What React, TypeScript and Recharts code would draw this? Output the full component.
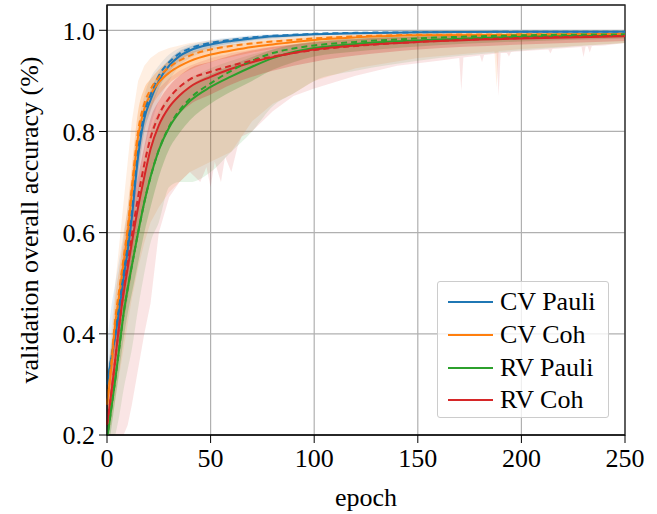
import React from "react";
import { Area, ComposedChart, CartesianGrid, Line, ReferenceArea, XAxis, YAxis } from "recharts";

const epochs = [0, 2, 4, 6, 8, 10, 12, 15, 18, 21, 25, 30, 35, 40, 50, 60, 70, 80, 90, 100, 120, 150, 200, 250];

// CV Pauli
const cvPauliMean = [0.30, 0.35, 0.395, 0.45, 0.51, 0.565, 0.63, 0.75, 0.825, 0.862, 0.9, 0.93, 0.949, 0.96, 0.972, 0.979, 0.984, 0.988, 0.99, 0.992, 0.994, 0.996, 0.997, 0.997];
const cvPauliMedian = [0.30, 0.35, 0.40, 0.46, 0.52, 0.575, 0.64, 0.76, 0.835, 0.872, 0.91, 0.937, 0.954, 0.964, 0.975, 0.981, 0.986, 0.989, 0.991, 0.993, 0.995, 0.996, 0.997, 0.997];
const cvPauliSdLo = [0.28, 0.325, 0.37, 0.425, 0.485, 0.54, 0.6, 0.715, 0.8, 0.84, 0.885, 0.918, 0.94, 0.952, 0.966, 0.974, 0.98, 0.985, 0.987, 0.99, 0.992, 0.994, 0.995, 0.996];
const cvPauliSdHi = [0.32, 0.375, 0.42, 0.475, 0.535, 0.59, 0.66, 0.785, 0.85, 0.882, 0.915, 0.942, 0.959, 0.968, 0.978, 0.984, 0.988, 0.991, 0.993, 0.994, 0.996, 0.997, 0.998, 0.998];
const cvPauliMin = [0.26, 0.3, 0.34, 0.39, 0.44, 0.49, 0.55, 0.67, 0.76, 0.81, 0.86, 0.9, 0.93, 0.945, 0.96, 0.97, 0.977, 0.982, 0.985, 0.988, 0.991, 0.993, 0.995, 0.996];
const cvPauliMax = [0.38, 0.45, 0.5, 0.55, 0.6, 0.65, 0.71, 0.81, 0.87, 0.905, 0.93, 0.952, 0.965, 0.972, 0.981, 0.986, 0.99, 0.992, 0.993, 0.995, 0.996, 0.997, 0.998, 0.998];

// CV Coh
const cvCohMean = [0.26, 0.33, 0.42, 0.48, 0.54, 0.6, 0.68, 0.79, 0.845, 0.873, 0.897, 0.916, 0.929, 0.939, 0.952, 0.96, 0.967, 0.972, 0.977, 0.981, 0.986, 0.99, 0.991, 0.992];
const cvCohMedian = [0.26, 0.34, 0.43, 0.49, 0.55, 0.61, 0.69, 0.8, 0.855, 0.883, 0.907, 0.927, 0.94, 0.95, 0.962, 0.969, 0.974, 0.978, 0.981, 0.984, 0.988, 0.991, 0.992, 0.993];
const cvCohSdLo = [0.23, 0.29, 0.37, 0.43, 0.49, 0.55, 0.63, 0.74, 0.81, 0.845, 0.872, 0.895, 0.91, 0.922, 0.937, 0.947, 0.956, 0.963, 0.969, 0.974, 0.98, 0.985, 0.987, 0.989];
const cvCohSdHi = [0.29, 0.37, 0.47, 0.53, 0.59, 0.65, 0.73, 0.84, 0.885, 0.903, 0.922, 0.94, 0.95, 0.957, 0.966, 0.972, 0.977, 0.981, 0.984, 0.987, 0.991, 0.994, 0.995, 0.995];
const cvCohBandEpochs = [0, 2, 4, 6, 8, 10, 12, 15, 18, 21, 25, 30, 35, 40, 50, 60, 70, 80, 90, 100, 120, 150, 180, 187, 188, 189, 200, 250];
const cvCohMin = [0.2, 0.22, 0.27, 0.32, 0.37, 0.42, 0.47, 0.53, 0.58, 0.62, 0.65, 0.68, 0.7, 0.72, 0.74, 0.76, 0.82, 0.855, 0.875, 0.9, 0.925, 0.945, 0.956, 0.958, 0.887, 0.959, 0.963, 0.975];
const cvCohMax = [0.3, 0.4, 0.5, 0.58, 0.66, 0.74, 0.82, 0.9, 0.93, 0.945, 0.957, 0.965, 0.97, 0.975, 0.98, 0.984, 0.987, 0.989, 0.99, 0.991, 0.993, 0.995, 0.996, 0.996, 0.996, 0.996, 0.996, 0.996];

// RV Pauli
const rvPauliMean = [0.19, 0.25, 0.31, 0.375, 0.44, 0.49, 0.535, 0.6, 0.66, 0.71, 0.763, 0.808, 0.838, 0.86, 0.888, 0.909, 0.928, 0.945, 0.957, 0.965, 0.973, 0.98, 0.987, 0.99];
const rvPauliMedian = [0.19, 0.25, 0.31, 0.375, 0.44, 0.49, 0.535, 0.6, 0.66, 0.71, 0.763, 0.81, 0.842, 0.865, 0.895, 0.92, 0.94, 0.955, 0.964, 0.97, 0.977, 0.984, 0.99, 0.992];
const rvPauliSdLo = [0.16, 0.21, 0.27, 0.33, 0.39, 0.44, 0.48, 0.54, 0.6, 0.65, 0.71, 0.765, 0.797, 0.822, 0.855, 0.879, 0.9, 0.922, 0.937, 0.948, 0.958, 0.968, 0.978, 0.984];
const rvPauliSdHi = [0.22, 0.29, 0.35, 0.42, 0.49, 0.54, 0.59, 0.655, 0.715, 0.765, 0.81, 0.845, 0.872, 0.89, 0.913, 0.931, 0.947, 0.962, 0.972, 0.978, 0.984, 0.988, 0.993, 0.995];
const rvPauliMin = [0.15, 0.17, 0.2, 0.24, 0.29, 0.33, 0.37, 0.45, 0.52, 0.58, 0.62, 0.69, 0.7, 0.7, 0.72, 0.76, 0.8, 0.85, 0.875, 0.9, 0.92, 0.94, 0.96, 0.975];
const rvPauliMax = [0.24, 0.3, 0.37, 0.44, 0.51, 0.57, 0.62, 0.69, 0.75, 0.8, 0.84, 0.87, 0.89, 0.905, 0.925, 0.94, 0.952, 0.962, 0.97, 0.975, 0.982, 0.988, 0.993, 0.995];

// RV Coh
const rvCohMean = [0.22, 0.28, 0.35, 0.42, 0.48, 0.53, 0.58, 0.65, 0.71, 0.765, 0.812, 0.848, 0.871, 0.888, 0.908, 0.924, 0.937, 0.947, 0.955, 0.962, 0.97, 0.977, 0.984, 0.988];
const rvCohMedian = [0.22, 0.28, 0.35, 0.42, 0.485, 0.54, 0.595, 0.67, 0.735, 0.787, 0.832, 0.866, 0.888, 0.903, 0.918, 0.93, 0.94, 0.948, 0.955, 0.961, 0.969, 0.977, 0.985, 0.989];
const rvCohSdLo = [0.19, 0.24, 0.3, 0.36, 0.42, 0.47, 0.52, 0.59, 0.65, 0.71, 0.765, 0.805, 0.835, 0.853, 0.873, 0.893, 0.908, 0.92, 0.93, 0.938, 0.95, 0.962, 0.972, 0.979];
const rvCohSdHi = [0.25, 0.32, 0.4, 0.48, 0.54, 0.59, 0.64, 0.71, 0.77, 0.825, 0.86, 0.89, 0.91, 0.925, 0.938, 0.95, 0.96, 0.967, 0.972, 0.977, 0.983, 0.987, 0.991, 0.993];
const rvCohBandEpochs = [0, 2, 4, 6, 8, 10, 12, 15, 18, 21, 25, 30, 35, 40, 45, 48, 50, 52, 55, 57, 60, 63, 65, 70, 80, 90, 100, 120, 140, 150, 160, 170, 171, 172, 180, 181, 182, 188, 189, 190, 193, 194, 195, 205, 213, 214, 215, 229, 230, 231, 232, 233, 234, 240, 250];
const rvCohMin = [0.15, 0.15, 0.16, 0.18, 0.2, 0.22, 0.26, 0.33, 0.4, 0.46, 0.6, 0.67, 0.7, 0.72, 0.7, 0.73, 0.69, 0.74, 0.7, 0.75, 0.72, 0.77, 0.79, 0.8, 0.84, 0.87, 0.885, 0.91, 0.93, 0.935, 0.94, 0.945, 0.88, 0.946, 0.95, 0.937, 0.951, 0.954, 0.87, 0.955, 0.955, 0.948, 0.957, 0.96, 0.962, 0.954, 0.963, 0.967, 0.947, 0.968, 0.968, 0.956, 0.969, 0.97, 0.975];
const rvCohMax = [0.28, 0.35, 0.42, 0.5, 0.57, 0.63, 0.68, 0.75, 0.81, 0.855, 0.885, 0.905, 0.92, 0.93, 0.938, 0.942, 0.945, 0.947, 0.95, 0.951, 0.955, 0.957, 0.958, 0.962, 0.968, 0.972, 0.976, 0.981, 0.985, 0.986, 0.987, 0.988, 0.988, 0.988, 0.989, 0.989, 0.989, 0.99, 0.99, 0.99, 0.99, 0.99, 0.99, 0.991, 0.991, 0.991, 0.991, 0.992, 0.992, 0.992, 0.992, 0.992, 0.992, 0.992, 0.993];

const xTicks = [0, 50, 100, 150, 200, 250];
const yTicks = [0.2, 0.4, 0.6, 0.8, 1.0];

const series = [
  { key: "cvPauli", name: "CV Pauli", color: "#1f77b4" },
  { key: "cvCoh", name: "CV Coh", color: "#ff7f0e" },
  { key: "rvPauli", name: "RV Pauli", color: "#2ca02c" },
  { key: "rvCoh", name: "RV Coh", color: "#d62728" },
];

const rows = epochs.map((epoch, i) => ({
  epoch,
  cvPauli: cvPauliMean[i],
  cvPauliMed: cvPauliMedian[i],
  cvPauliSd: [cvPauliSdLo[i], cvPauliSdHi[i]],
  cvPauliRange: [cvPauliMin[i], cvPauliMax[i]],
  cvCoh: cvCohMean[i],
  cvCohMed: cvCohMedian[i],
  cvCohSd: [cvCohSdLo[i], cvCohSdHi[i]],
  rvPauli: rvPauliMean[i],
  rvPauliMed: rvPauliMedian[i],
  rvPauliSd: [rvPauliSdLo[i], rvPauliSdHi[i]],
  rvPauliRange: [rvPauliMin[i], rvPauliMax[i]],
  rvCoh: rvCohMean[i],
  rvCohMed: rvCohMedian[i],
  rvCohSd: [rvCohSdLo[i], rvCohSdHi[i]],
}));

const cvCohBand = cvCohBandEpochs.map((epoch, i) => ({ epoch, range: [cvCohMin[i], cvCohMax[i]] }));
const rvCohBand = rvCohBandEpochs.map((epoch, i) => ({ epoch, range: [rvCohMin[i], rvCohMax[i]] }));

const FONT = "Liberation Serif, Tinos, Nimbus Roman, DejaVu Serif, serif";

function LegendBox() {
  return (
    <div
      style={{
        position: "absolute",
        left: 437,
        top: 281,
        width: 172,
        height: 137,
        boxSizing: "border-box",
        border: "1px solid #cccccc",
        borderRadius: 3,
        background: "rgba(255,255,255,0.8)",
        fontFamily: FONT,
        fontSize: 26,
        color: "#000",
        padding: "4px 0 0 10px",
      }}
    >
      {series.map((s) => (
        <div key={s.key} style={{ display: "flex", alignItems: "center", height: 32.7 }}>
          <div style={{ width: 45, height: 2, background: s.color, marginRight: 7 }} />
          <span style={{ lineHeight: "26px" }}>{s.name}</span>
        </div>
      ))}
    </div>
  );
}

export default function App() {
  const tickStyle = { fontFamily: FONT, fontSize: 26, fill: "#000" };
  return (
    <div style={{ position: "absolute", left: 0, top: 0, width: 657, height: 514, background: "#fff", fontFamily: FONT }}>
      <ComposedChart width={657} height={514} data={rows} margin={{ top: 5, right: 32, left: 0, bottom: 0 }} style={{ fontFamily: FONT }}>
        <CartesianGrid stroke="#b0b0b0" strokeWidth={1.2} />
        <XAxis
          dataKey="epoch"
          type="number"
          domain={[0, 250]}
          ticks={xTicks}
          height={79}
          tickSize={8}
          tickMargin={6}
          tick={tickStyle}
          stroke="#000"
          label={{ value: "epoch", position: "insideBottom", offset: 8, style: { fontFamily: FONT, fontSize: 26, fill: "#000" } }}
        />
        <YAxis
          type="number"
          domain={[0.2, 1.05]}
          allowDataOverflow
          ticks={yTicks}
          width={107}
          tickSize={8}
          tickMargin={4}
          tick={tickStyle}
          tickFormatter={(v: number) => v.toFixed(1)}
          stroke="#000"
          label={{
            value: "validation overall accuracy (%)",
            angle: -90,
            position: "insideLeft",
            offset: 29,
            style: { fontFamily: FONT, fontSize: 26, fill: "#000", textAnchor: "middle" },
          }}
        />

        <Area dataKey="cvPauliRange" type="monotone" stroke="none" fill="#1f77b4" fillOpacity={0.12} isAnimationActive={false} dot={false} activeDot={false} />
        <Area dataKey="cvPauliSd" type="monotone" stroke="none" fill="#1f77b4" fillOpacity={0.25} isAnimationActive={false} dot={false} activeDot={false} />
        <Area data={cvCohBand} dataKey="range" type="linear" stroke="none" fill="#ff7f0e" fillOpacity={0.12} isAnimationActive={false} dot={false} activeDot={false} />
        <Area dataKey="cvCohSd" type="monotone" stroke="none" fill="#ff7f0e" fillOpacity={0.25} isAnimationActive={false} dot={false} activeDot={false} />
        <Area dataKey="rvPauliRange" type="monotone" stroke="none" fill="#2ca02c" fillOpacity={0.12} isAnimationActive={false} dot={false} activeDot={false} />
        <Area dataKey="rvPauliSd" type="monotone" stroke="none" fill="#2ca02c" fillOpacity={0.25} isAnimationActive={false} dot={false} activeDot={false} />
        <Area data={rvCohBand} dataKey="range" type="linear" stroke="none" fill="#d62728" fillOpacity={0.12} isAnimationActive={false} dot={false} activeDot={false} />
        <Area dataKey="rvCohSd" type="monotone" stroke="none" fill="#d62728" fillOpacity={0.25} isAnimationActive={false} dot={false} activeDot={false} />

        {series.map((s) => (
          <Line key={s.key} dataKey={s.key} type="monotone" stroke={s.color} strokeWidth={2} dot={false} activeDot={false} isAnimationActive={false} />
        ))}
        {series.map((s) => (
          <Line key={s.key + "Med"} dataKey={s.key + "Med"} type="monotone" stroke={s.color} strokeWidth={2} strokeDasharray="6 4" dot={false} activeDot={false} isAnimationActive={false} />
        ))}

        <ReferenceArea x1={0} x2={250} y1={0.2} y2={1.05} fill="none" stroke="#222" strokeWidth={1.3} ifOverflow="visible" />
      </ComposedChart>
      <LegendBox />
    </div>
  );
}
